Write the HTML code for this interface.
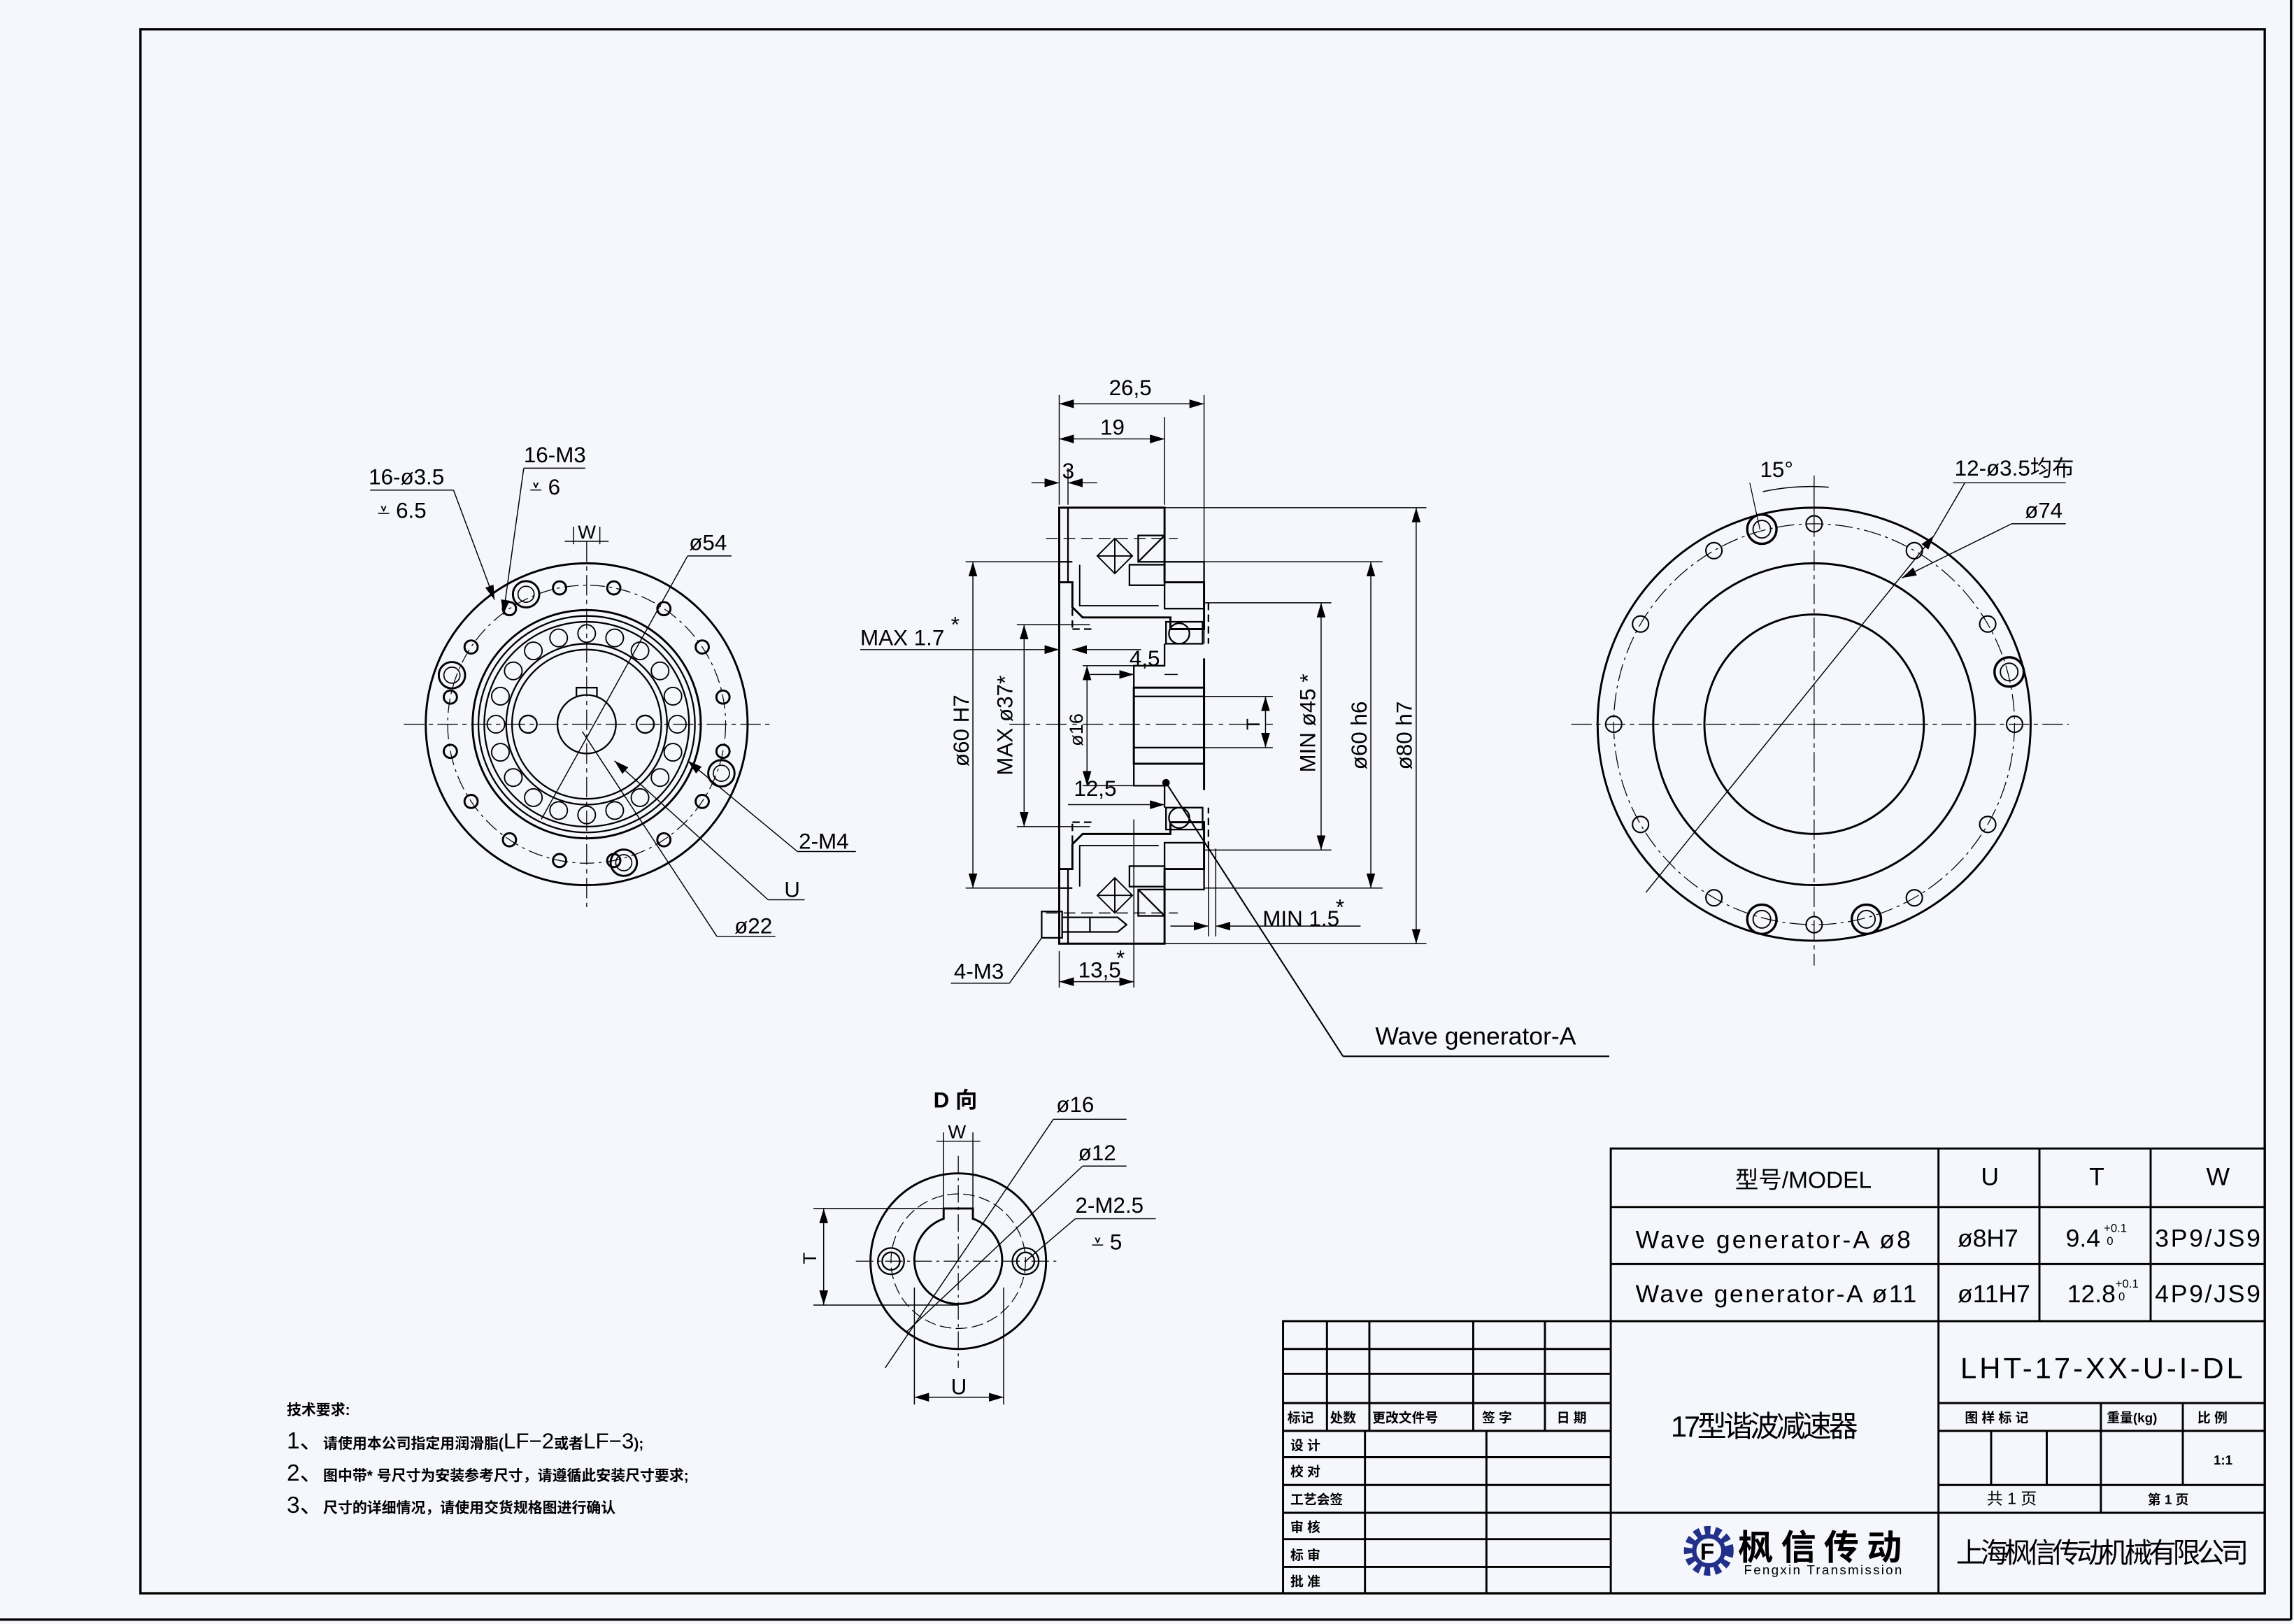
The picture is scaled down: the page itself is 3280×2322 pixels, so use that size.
<!DOCTYPE html>
<html><head><meta charset="utf-8"><style>
html,body{margin:0;padding:0;background:#f5f7fc;}
svg{display:block}
text{font-family:"Liberation Sans Narrow","Liberation Sans","Noto Sans CJK SC",sans-serif;fill:#000}
.cn{font-family:"Liberation Sans","Noto Sans CJK SC",sans-serif}
</style></head><body>
<svg id="s" width="3280" height="2322" viewBox="0 0 1568 1110" preserveAspectRatio="none" xmlns="http://www.w3.org/2000/svg">
<defs>
<marker id="a" viewBox="0 0 10 6" refX="10" refY="3" markerWidth="10" markerHeight="6" markerUnits="userSpaceOnUse" orient="auto-start-reverse"><path d="M0,0 L10,3 L0,6 Z" fill="#000"/></marker>
</defs>
<rect width="1568" height="1110" fill="#f5f7fc"/>
<g fill="none" stroke="#000" stroke-width="1">
<rect x="96" y="20" width="1452" height="1069" stroke-width="1.6"/>
<line x1="0" y1="1107" x2="1566" y2="1107" stroke-width="1.6"/>
<line x1="1566" y1="0" x2="1566" y2="1107" stroke-width="1.6"/>
<g stroke-width="1.4">
<rect x="1101" y="785" width="447" height="118"/>
<line x1="1101" y1="825" x2="1548" y2="825"/><line x1="1101" y1="864" x2="1548" y2="864"/>
<line x1="1325" y1="785" x2="1325" y2="1089"/><line x1="1394" y1="785" x2="1394" y2="903"/><line x1="1470" y1="785" x2="1470" y2="903"/>
<rect x="877" y="903" width="671" height="186"/>
<line x1="1101" y1="903" x2="1101" y2="1089"/>
<line x1="877" y1="922" x2="1101" y2="922"/><line x1="877" y1="939" x2="1101" y2="939"/><line x1="877" y1="959" x2="1101" y2="959"/>
<line x1="877" y1="978" x2="1101" y2="978"/><line x1="877" y1="996" x2="1101" y2="996"/><line x1="877" y1="1015" x2="1101" y2="1015"/>
<line x1="877" y1="1034" x2="1101" y2="1034"/><line x1="877" y1="1052" x2="1101" y2="1052"/><line x1="877" y1="1071" x2="1101" y2="1071"/>
<line x1="907" y1="903" x2="907" y2="978"/><line x1="936" y1="903" x2="936" y2="978"/><line x1="1007" y1="903" x2="1007" y2="978"/><line x1="1056" y1="903" x2="1056" y2="978"/>
<line x1="933" y1="978" x2="933" y2="1089"/><line x1="1016" y1="978" x2="1016" y2="1089"/>
<line x1="1101" y1="1034" x2="1548" y2="1034"/>
<line x1="1325" y1="959" x2="1548" y2="959"/><line x1="1325" y1="978" x2="1548" y2="978"/><line x1="1325" y1="1015" x2="1548" y2="1015"/>
<line x1="1436" y1="959" x2="1436" y2="1034"/><line x1="1492" y1="959" x2="1492" y2="1015"/>
<line x1="1361" y1="978" x2="1361" y2="1015"/><line x1="1399" y1="978" x2="1399" y2="1015"/>
</g>
</g>
<g font-size="17">
<text x="1186" y="812" class="cn" font-size="16">型号/MODEL</text>
<text x="1354" y="810">U</text><text x="1428" y="810">T</text><text x="1508" y="810">W</text>
<text x="1118" y="853" textLength="188">Wave generator-A ø8</text><text x="1338" y="852">ø8H7</text><text x="1412" y="852">9.4</text><text x="1438" y="842" font-size="8">+0.1</text><text x="1440" y="851" font-size="8">0</text><text x="1473" y="852" textLength="72">3P9/JS9</text>
<text x="1118" y="890" textLength="192">Wave generator-A ø11</text><text x="1338" y="890">ø11H7</text><text x="1413" y="890">12.8</text><text x="1446" y="880" font-size="8">+0.1</text><text x="1448" y="889" font-size="8">0</text><text x="1473" y="890" textLength="72">4P9/JS9</text>
<text x="1340" y="942" font-size="20" textLength="193">LHT-17-XX-U-I-DL</text>
<text x="1142" y="982" class="cn" font-size="20" textLength="128">17型谐波减速器</text>
<text x="1337" y="1068" class="cn" font-size="19" fill="#333" textLength="200">上海枫信传动机械有限公司</text>
</g>
<g font-size="9" class="cn" font-weight="bold">
<text x="880" y="972">标记</text><text x="909" y="972">处数</text><text x="938" y="972">更改文件号</text><text x="1013" y="972">签  字</text><text x="1064" y="972">日 期</text>
<text x="1343" y="972">图 样 标 记</text><text x="1440" y="972">重量(kg)</text><text x="1502" y="972">比 例</text>
<text x="1513" y="1001">1:1</text>
<text x="1358" y="1028" font-weight="normal" font-size="11">共 1 页</text><text x="1468" y="1028">第 1 页</text>
<text x="882" y="991">设  计</text><text x="882" y="1009">校  对</text><text x="882" y="1028">工艺会签</text>
<text x="882" y="1047">审  核</text><text x="882" y="1066">标  审</text><text x="882" y="1084">批  准</text>
</g>
<g transform="translate(1168,1060)">
<circle r="14" fill="none" stroke="#22308a" stroke-width="6" stroke-dasharray="4 3"/>
<circle r="10" fill="#f5f7fc" stroke="#22308a" stroke-width="3"/>
<text x="-6" y="6" font-size="16" fill="#c0202a" font-weight="bold">F</text>
</g>
<text x="1188" y="1066" class="cn" font-size="24" font-weight="bold" fill="#22308a" textLength="112">枫信传动</text>
<text x="1192" y="1076" font-size="9" fill="#22308a" textLength="108">Fengxin Transmission</text>
<g class="cn" font-weight="bold" font-size="10">
<text x="196" y="967">技术要求:</text>
<text x="196" y="990"><tspan font-size="16" font-weight="normal">1、</tspan>请使用本公司指定用润滑脂(<tspan font-weight="normal" font-size="15">LF−2</tspan>或者<tspan font-weight="normal" font-size="15">LF−3</tspan>);</text>
<text x="196" y="1012"><tspan font-size="16" font-weight="normal">2、</tspan>图中带* 号尺寸为安装参考尺寸，请遵循此安装尺寸要求;</text>
<text x="196" y="1034"><tspan font-size="16" font-weight="normal">3、</tspan>尺寸的详细情况，请使用交货规格图进行确认</text>
</g>

<g id="draw" fill="none" stroke="#000" stroke-width="1.1">
<g id="lv">
<line x1="276" y1="495" x2="526" y2="495" stroke-width="0.6" stroke-dasharray="14 3 3 3"/>
<line x1="401" y1="370" x2="401" y2="620" stroke-width="0.6" stroke-dasharray="14 3 3 3"/>
<circle cx="401" cy="495" r="110" stroke-width="1.4"/>
<circle cx="401" cy="495" r="95" stroke-width="0.6" stroke-dasharray="10 3 2 3"/>
<circle cx="401" cy="495" r="78" stroke-width="1.4"/>
<circle cx="401" cy="495" r="74"/>
<circle cx="401" cy="495" r="70"/>
<circle cx="401" cy="495" r="55"/>
<circle cx="401" cy="495" r="51"/>
<circle cx="401" cy="495" r="20"/>
<path d="M394,476 V470 H408 V476" />
<circle cx="441" cy="495" r="6"/><circle cx="361" cy="495" r="6" />
</g>
<g id="rv">
<line x1="1074" y1="495" x2="1414" y2="495" stroke-width="0.6" stroke-dasharray="14 3 3 3"/>
<line x1="1240" y1="330" x2="1240" y2="660" stroke-width="0.6" stroke-dasharray="14 3 3 3"/>
<circle cx="1240" cy="495" r="148" stroke-width="1.4"/>
<circle cx="1240" cy="495" r="137" stroke-width="0.6" stroke-dasharray="12 3 2 3"/>
<circle cx="1240" cy="495" r="110" stroke-width="1.4"/>
<circle cx="1240" cy="495" r="75" stroke-width="1.4"/>
<line x1="1125" y1="610" x2="1322" y2="366" stroke-width="0.7" marker-end="url(#a)"/>
<line x1="1322" y1="366" x2="1343" y2="330" stroke-width="0.7"/><line x1="1335" y1="330" x2="1412" y2="330" stroke-width="0.7"/>
<line x1="1375" y1="358" x2="1412" y2="358" stroke-width="0.7"/><line x1="1375" y1="358" x2="1300" y2="395" stroke-width="0.7" marker-end="url(#a)"/>
<path d="M1205,336 A160,160 0 0 1 1250,333" stroke-width="0.7"/>
<line x1="1203" y1="362" x2="1196" y2="330" stroke-width="0.6"/><line x1="1240" y1="358" x2="1240" y2="325" stroke-width="0.6"/>
</g>
<g>
<line x1="585" y1="862" x2="725" y2="862" stroke-width="0.6" stroke-dasharray="12 3 2 3"/>
<line x1="655" y1="790" x2="655" y2="935" stroke-width="0.6" stroke-dasharray="12 3 2 3"/>
<circle cx="655" cy="862" r="60" stroke-width="1.4"/>
<circle cx="655" cy="862" r="46" stroke-width="0.6" stroke-dasharray="8 3"/>
<path d="M645,833 A30,30 0 1 0 665,833 V826 H645 Z" stroke-width="1.4"/>
<circle cx="609" cy="862" r="9"/><circle cx="609" cy="862" r="6"/>
<circle cx="701" cy="862" r="9"/><circle cx="701" cy="862" r="6"/>
<g stroke-width="0.7">
<line x1="645" y1="826" x2="645" y2="774"/><line x1="665" y1="826" x2="665" y2="774"/><line x1="640" y1="780" x2="670" y2="780"/>
<line x1="645" y1="826" x2="556" y2="826"/><line x1="655" y1="892" x2="556" y2="892"/><line x1="563" y1="826" x2="563" y2="892" marker-start="url(#a)" marker-end="url(#a)"/>
<line x1="625" y1="880" x2="625" y2="960"/><line x1="686" y1="880" x2="686" y2="960"/><line x1="625" y1="955" x2="686" y2="955" marker-start="url(#a)" marker-end="url(#a)"/>
<line x1="605" y1="935" x2="720" y2="765"/><line x1="720" y1="765" x2="770" y2="765"/>
<line x1="620" y1="910" x2="740" y2="797"/><line x1="740" y1="797" x2="770" y2="797"/>
<line x1="701" y1="862" x2="735" y2="833"/><line x1="735" y1="833" x2="790" y2="833"/>
</g>
</g>
<g id="mid">
<g id="half">
<path d="M724,347 H796 V398 H823 V430 H800 V422 H740 L733,415 V398 H724 Z" stroke-width="1.4"/>
<line x1="730" y1="347" x2="730" y2="398"/>
<line x1="715" y1="368" x2="805" y2="368" stroke-dasharray="8 4" stroke-width="0.7"/>
<path d="M750,380 L762,368 L774,380 L762,392 Z M762,368 V392 M750,380 H774" stroke-width="0.9"/>
<rect x="778" y="366" width="18" height="18"/><line x1="778" y1="384" x2="796" y2="366"/>
<rect x="772" y="386" width="24" height="14"/><rect x="796" y="384" width="27" height="32"/>
<path d="M738,386 V414 H792" stroke-width="0.9"/>
<line x1="733" y1="400" x2="733" y2="430" stroke-dasharray="5 3"/><line x1="733" y1="430" x2="748" y2="430" stroke-dasharray="5 3"/>
<line x1="826" y1="412" x2="826" y2="440" stroke-dasharray="5 3"/>
<circle cx="806" cy="433" r="7"/><rect x="797" y="425" width="25" height="15"/>
<path d="M796,440 V455 H775 V470"/>
</g>
<use href="#half" transform="translate(0,992) scale(1,-1)"/>
<line x1="724" y1="384" x2="724" y2="607" stroke-width="1.4"/>
<line x1="724" y1="384" x2="733" y2="384"/><line x1="724" y1="607" x2="733" y2="607"/>
<rect x="775" y="470" width="48" height="52" stroke-width="1.4"/>
<line x1="775" y1="476" x2="823" y2="476"/><line x1="775" y1="511" x2="823" y2="511"/>
<line x1="823" y1="450" x2="823" y2="540" stroke-width="1.4"/>
<line x1="690" y1="495" x2="870" y2="495" stroke-width="0.6" stroke-dasharray="14 4 3 4"/>
<rect x="712" y="623" width="14" height="18"/><path d="M726,627 H764 L770,632 L764,637 H726"/><line x1="745" y1="627" x2="745" y2="637"/>
<g stroke-width="0.7">
<line x1="724" y1="270" x2="724" y2="345"/><line x1="823" y1="270" x2="823" y2="440"/><line x1="796" y1="285" x2="796" y2="345"/>
<line x1="724" y1="276" x2="823" y2="276" marker-start="url(#a)" marker-end="url(#a)"/><line x1="724" y1="300" x2="796" y2="300" marker-start="url(#a)" marker-end="url(#a)"/>
<line x1="705" y1="330" x2="724" y2="330" marker-end="url(#a)"/><line x1="750" y1="330" x2="730" y2="330" marker-end="url(#a)"/><line x1="730" y1="320" x2="730" y2="345"/>
<line x1="796" y1="347" x2="975" y2="347"/><line x1="796" y1="645" x2="975" y2="645"/><line x1="968" y1="347" x2="968" y2="645" marker-start="url(#a)" marker-end="url(#a)"/>
<line x1="823" y1="384" x2="945" y2="384"/><line x1="823" y1="607" x2="945" y2="607"/><line x1="937" y1="384" x2="937" y2="607" marker-start="url(#a)" marker-end="url(#a)"/>
<line x1="823" y1="412" x2="910" y2="412"/><line x1="823" y1="581" x2="910" y2="581"/><line x1="903" y1="412" x2="903" y2="581" marker-start="url(#a)" marker-end="url(#a)"/>
<line x1="660" y1="384" x2="724" y2="384"/><line x1="660" y1="607" x2="724" y2="607"/><line x1="665" y1="384" x2="665" y2="607" marker-start="url(#a)" marker-end="url(#a)"/>
<line x1="695" y1="427" x2="745" y2="427"/><line x1="695" y1="565" x2="745" y2="565"/><line x1="700" y1="427" x2="700" y2="565" marker-start="url(#a)" marker-end="url(#a)"/>
<line x1="740" y1="455" x2="775" y2="455"/><line x1="740" y1="537" x2="775" y2="537"/><line x1="743" y1="455" x2="743" y2="537" marker-start="url(#a)" marker-end="url(#a)"/>
<line x1="823" y1="476" x2="870" y2="476"/><line x1="823" y1="511" x2="870" y2="511"/><line x1="865" y1="476" x2="865" y2="511" marker-start="url(#a)" marker-end="url(#a)"/>
<line x1="588" y1="444" x2="724" y2="444" marker-end="url(#a)"/><line x1="780" y1="444" x2="733" y2="444" marker-end="url(#a)"/>
<line x1="745" y1="461" x2="775" y2="461" marker-end="url(#a)"/><line x1="805" y1="461" x2="796" y2="461"/>
<line x1="730" y1="550" x2="796" y2="550" marker-end="url(#a)"/>
<line x1="826" y1="580" x2="826" y2="640"/><line x1="831" y1="580" x2="831" y2="640"/><line x1="800" y1="633" x2="826" y2="633" marker-end="url(#a)"/><line x1="930" y1="633" x2="831" y2="633" marker-end="url(#a)"/>
<line x1="724" y1="650" x2="724" y2="675"/><line x1="775" y1="560" x2="775" y2="675"/><line x1="724" y1="671" x2="775" y2="671" marker-start="url(#a)" marker-end="url(#a)"/>
<line x1="712" y1="641" x2="690" y2="672"/><line x1="690" y1="672" x2="650" y2="672"/>
<line x1="797" y1="535" x2="918" y2="722" stroke-width="1"/><line x1="918" y1="722" x2="1100" y2="722" stroke-width="1"/>
</g>
<circle cx="797" cy="535" r="2" fill="#000"/>
</g>
<g stroke-width="0.7">
<line x1="253" y1="335" x2="310" y2="335"/><line x1="310" y1="335" x2="338" y2="410" marker-end="url(#a)"/>
<line x1="358" y1="320" x2="400" y2="320"/><line x1="358" y1="320" x2="344" y2="420" marker-end="url(#a)"/>
<line x1="392" y1="372" x2="392" y2="360"/><line x1="410" y1="372" x2="410" y2="360"/><line x1="386" y1="370" x2="416" y2="370"/>
<line x1="370" y1="560" x2="470" y2="380"/><line x1="470" y1="380" x2="500" y2="380"/>
<line x1="545" y1="582" x2="470" y2="520" marker-end="url(#a)"/><line x1="545" y1="582" x2="585" y2="582"/>
<line x1="525" y1="615" x2="420" y2="520" marker-end="url(#a)"/><line x1="525" y1="615" x2="550" y2="615"/>
<line x1="398" y1="500" x2="490" y2="640"/><line x1="490" y1="640" x2="530" y2="640"/>
</g>
</g>
<g id="holes" fill="none" stroke="#000" stroke-width="1"></g>
<g font-size="15">
<text x="252" y="331">16-ø3.5</text><text x="258" y="354">⩡ 6.5</text>
<text x="358" y="316">16-M3</text><text x="362" y="338">⩡ 6</text>
<text x="395" y="368" font-size="13">W</text><text x="471" y="376">ø54</text>
<text x="546" y="580">2-M4</text><text x="536" y="613">U</text><text x="502" y="638">ø22</text>
<text x="758" y="270">26,5</text><text x="752" y="297">19</text><text x="726" y="327">3</text>
<text x="588" y="441">MAX 1.7</text><text x="650" y="432">*</text>
<text x="772" y="455">4,5</text><text x="734" y="544">12,5</text>
<text x="863" y="633">MIN 1.5</text><text x="913" y="625">*</text>
<text x="737" y="668">13,5</text><text x="763" y="660">*</text>
<text x="652" y="669">4-M3</text>
<text x="940" y="714" font-size="17">Wave generator-A</text>
<text x="1203" y="326">15°</text><text x="1336" y="325">12-ø3.5均布</text><text x="1384" y="354">ø74</text>
<text x="638" y="757" class="cn" font-weight="bold">D 向</text>
<text x="648" y="778" font-size="13">W</text><text x="722" y="760">ø16</text><text x="737" y="793">ø12</text>
<text x="735" y="829">2-M2.5</text><text x="746" y="854">⩡ 5</text>
<text x="650" y="953">U</text>
<text x="558" y="864" transform="rotate(-90 558 864)" font-size="13">T</text>
<text x="662" y="524" transform="rotate(-90 662 524)">ø60 H7</text>
<text x="692" y="530" transform="rotate(-90 692 530)">MAX ø37*</text>
<text x="740" y="510" transform="rotate(-90 740 510)" font-size="13">ø16</text>
<text x="861" y="499" transform="rotate(-90 861 499)" font-size="13">T</text>
<text x="899" y="528" transform="rotate(-90 899 528)">MIN ø45 *</text>
<text x="934" y="526" transform="rotate(-90 934 526)">ø60 h6</text>
<text x="965" y="526" transform="rotate(-90 965 526)">ø80 h7</text>
</g>
</svg>
<script>
(function(){
var g=document.getElementById('holes'),ns='http://www.w3.org/2000/svg';
function c(x,y,r,w){var e=document.createElementNS(ns,'circle');e.setAttribute('cx',x);e.setAttribute('cy',y);e.setAttribute('r',r);if(w)e.setAttribute('stroke-width',w);g.appendChild(e);}
var i,a;
for(i=0;i<16;i++){a=(i*22.5+11.25)*Math.PI/180;c(401+95*Math.sin(a),495-95*Math.cos(a),4.5,1.4);}
[[-25,4],[110,4],[165,4],[290,4]].forEach(function(p){a=p[0]*Math.PI/180;c(401+98*Math.sin(a),495-98*Math.cos(a),9,1.4);c(401+98*Math.sin(a),495-98*Math.cos(a),5.5,0.8);});
for(i=0;i<20;i++){a=i*18*Math.PI/180;c(401+62*Math.sin(a),495-62*Math.cos(a),6,0.9);}
for(i=0;i<12;i++){a=i*30*Math.PI/180;c(1240+137*Math.sin(a),495-137*Math.cos(a),5.5,1);}
[-15,75,195,165].forEach(function(d){a=d*Math.PI/180;var x=1240+138*Math.sin(a),y=495-138*Math.cos(a);c(x,y,10,1.6);c(x,y,6,0.9);});
})();
</script>
</body></html>
